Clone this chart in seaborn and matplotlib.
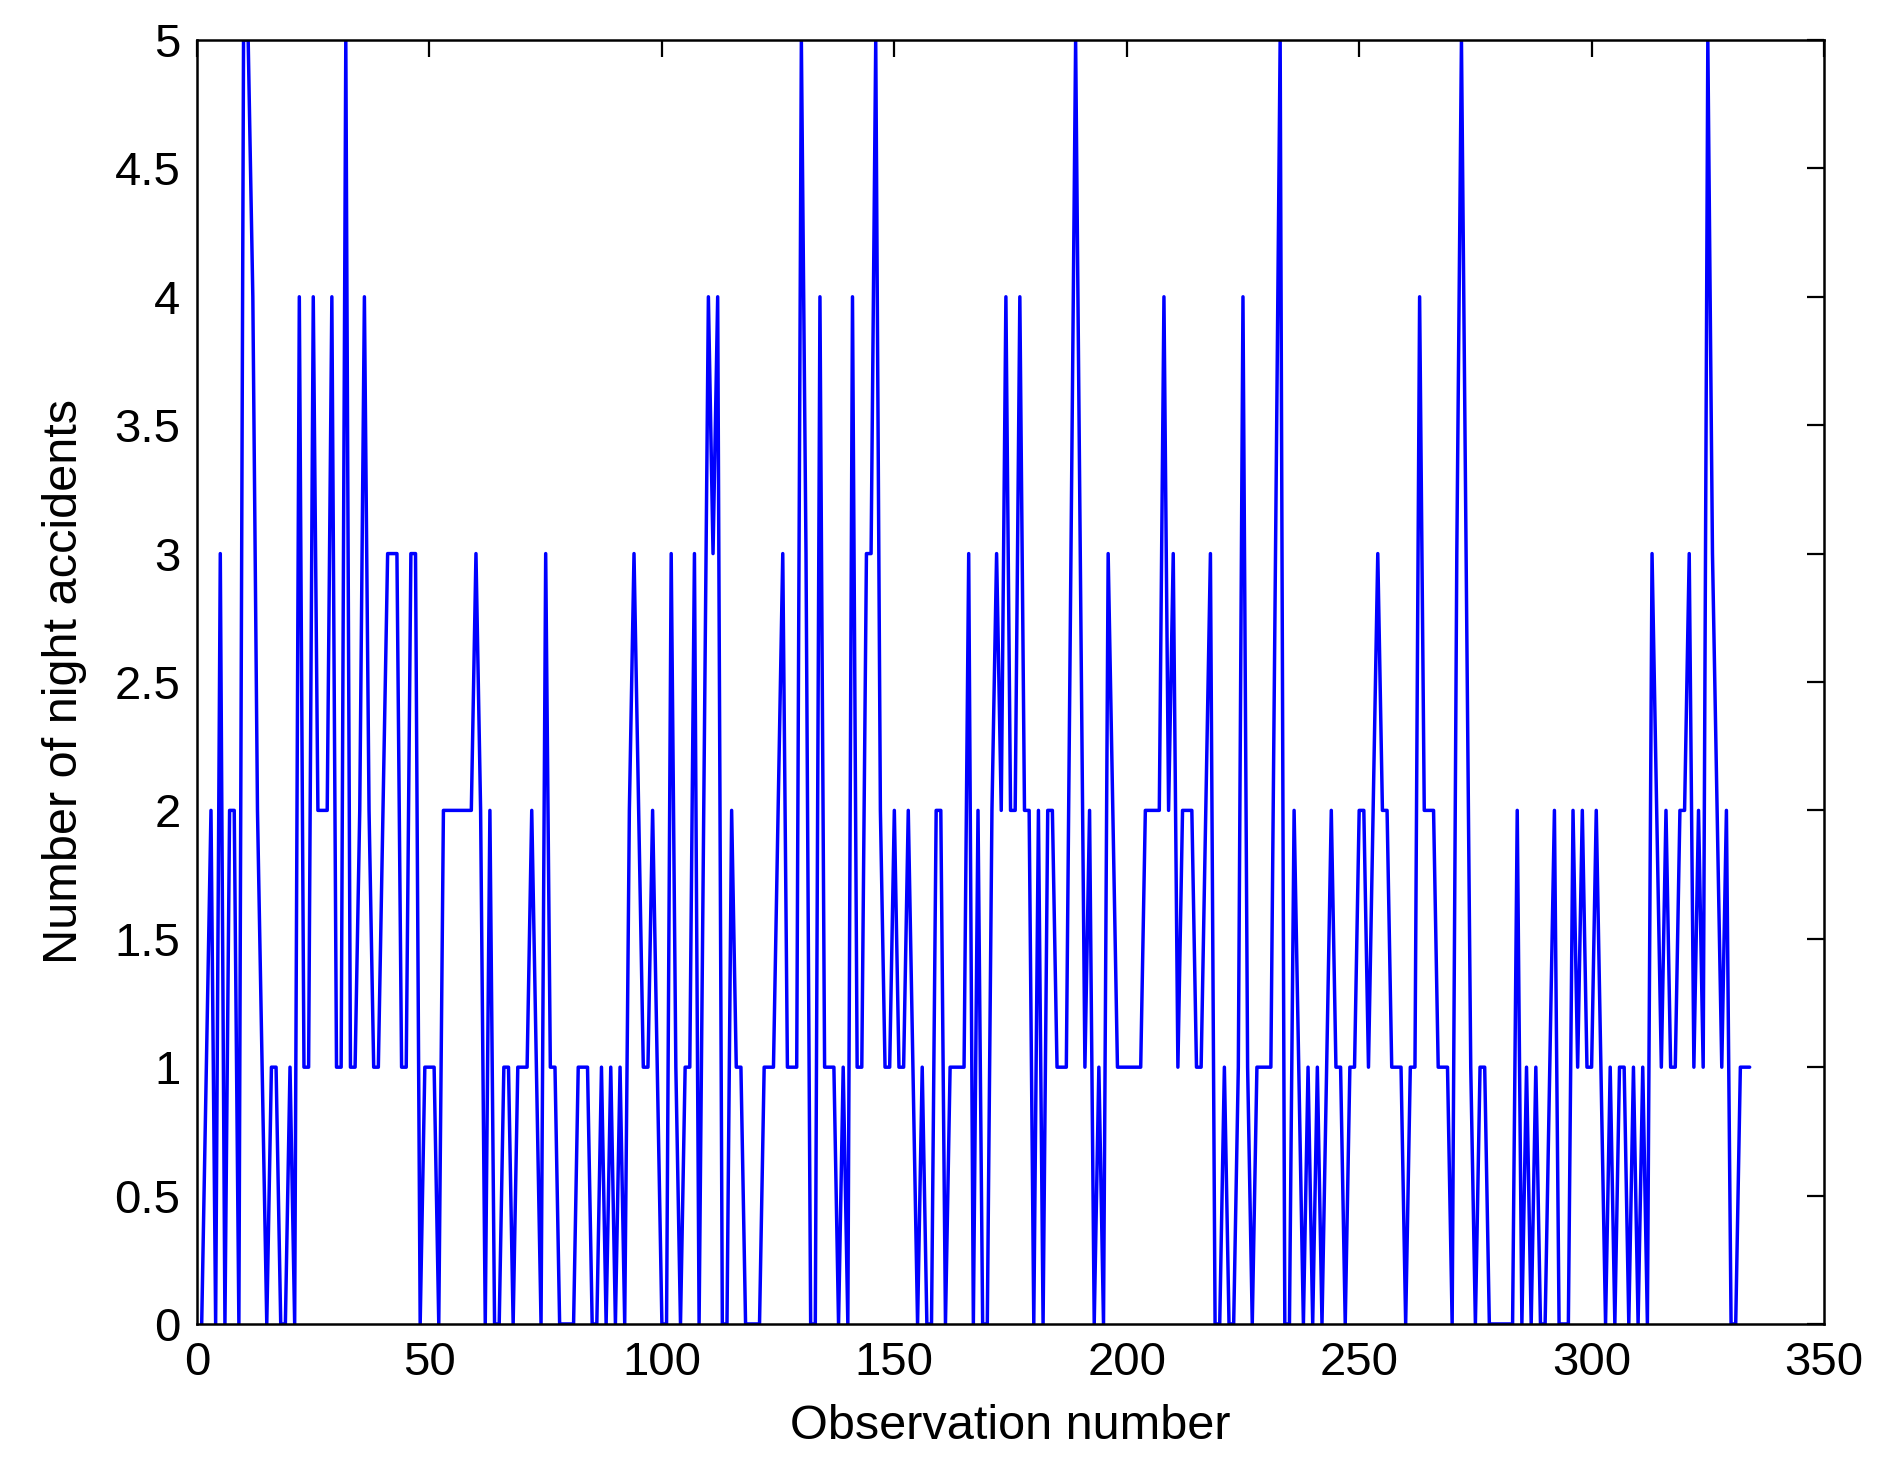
import numpy as np
import matplotlib
matplotlib.use("Agg")
import matplotlib.pyplot as plt
import seaborn as sns

accidents_001_050 = [0, 1, 2, 0, 3, 0, 2, 2, 0, 5, 5, 4, 2, 1, 0, 1, 1, 0, 0, 1,
                     0, 4, 1, 1, 4, 2, 2, 2, 4, 1, 1, 5, 1, 1, 2, 4, 2, 1, 1, 2,
                     3, 3, 3, 1, 1, 3, 3, 0, 1, 1]
accidents_051_100 = [1, 0, 2, 2, 2, 2, 2, 2, 2, 3, 2, 0, 2, 0, 0, 1, 1, 0, 1, 1,
                     1, 2, 1, 0, 3, 1, 1, 0, 0, 0, 0, 1, 1, 1, 0, 0, 1, 0, 1, 0,
                     1, 0, 2, 3, 2, 1, 1, 2, 1, 0]
accidents_101_150 = [0, 3, 1, 0, 1, 1, 3, 0, 2, 4, 3, 4, 0, 0, 2, 1, 1, 0, 0, 0,
                     0, 1, 1, 1, 2, 3, 1, 1, 1, 5, 3, 0, 0, 4, 1, 1, 1, 0, 1, 0,
                     4, 1, 1, 3, 3, 5, 2, 1, 1, 2]
accidents_151_200 = [1, 1, 2, 1, 0, 1, 0, 0, 2, 2, 0, 1, 1, 1, 1, 3, 0, 2, 0, 0,
                     2, 3, 2, 4, 2, 2, 4, 2, 2, 0, 2, 0, 2, 2, 1, 1, 1, 3, 5, 3,
                     1, 2, 0, 1, 0, 3, 2, 1, 1, 1]
accidents_201_250 = [1, 1, 1, 2, 2, 2, 2, 4, 2, 3, 1, 2, 2, 2, 1, 1, 2, 3, 0, 0,
                     1, 0, 0, 1, 4, 1, 0, 1, 1, 1, 1, 3, 5, 0, 0, 2, 1, 0, 1, 0,
                     1, 0, 1, 2, 1, 1, 0, 1, 1, 2]
accidents_251_300 = [2, 1, 2, 3, 2, 2, 1, 1, 1, 0, 1, 1, 4, 2, 2, 2, 1, 1, 1, 0,
                     3, 5, 3, 1, 0, 1, 1, 0, 0, 0, 0, 0, 0, 2, 0, 1, 0, 1, 0, 0,
                     1, 2, 0, 0, 0, 2, 1, 2, 1, 1]
accidents_301_334 = [2, 1, 0, 1, 0, 1, 1, 0, 1, 0, 1, 0, 3, 2, 1, 2, 1, 1, 2, 2,
                     3, 1, 2, 1, 5, 3, 2, 1, 2, 0, 0, 1, 1, 1]

night_accidents = (accidents_001_050 + accidents_051_100 + accidents_101_150 +
                   accidents_151_200 + accidents_201_250 + accidents_251_300 +
                   accidents_301_334)
observation = np.arange(1, len(night_accidents) + 1)

x_ticks = [0, 50, 100, 150, 200, 250, 300, 350]
y_ticks = [0, 0.5, 1, 1.5, 2, 2.5, 3, 3.5, 4, 4.5, 5]
y_tick_labels = ["0", "0.5", "1", "1.5", "2", "2.5", "3", "3.5", "4", "4.5", "5"]

sns.set_theme(style="white")
plt.rcParams["font.family"] = ["Liberation Sans", "DejaVu Sans"]
plt.rcParams["text.color"] = "black"
plt.rcParams["axes.labelcolor"] = "black"

fig = plt.figure(figsize=(18.82, 14.76), dpi=100)
ax = fig.add_axes([0.1047, 0.1030, 0.8645, 0.8699])

sns.lineplot(x=observation, y=night_accidents, ax=ax, color="#0000ff",
             linewidth=2.5, estimator=None, sort=False)

ax.set_xlim(0, 350)
ax.set_ylim(0, 5)
ax.set_xticks(x_ticks)
ax.set_yticks(y_ticks)
ax.set_yticklabels(y_tick_labels)
ax.tick_params(direction="in", length=12, width=1.6, top=True, right=True,
               labelsize=34, pad=12, colors="black")
for side in ax.spines.values():
    side.set_visible(True)
    side.set_color("black")
    side.set_linewidth(1.8)

ax.set_xlabel("Observation number", fontsize=35, labelpad=14, color="black")
ax.set_ylabel("Number of night accidents", fontsize=35, labelpad=20, color="black")

fig.savefig("out.png", dpi=100)
